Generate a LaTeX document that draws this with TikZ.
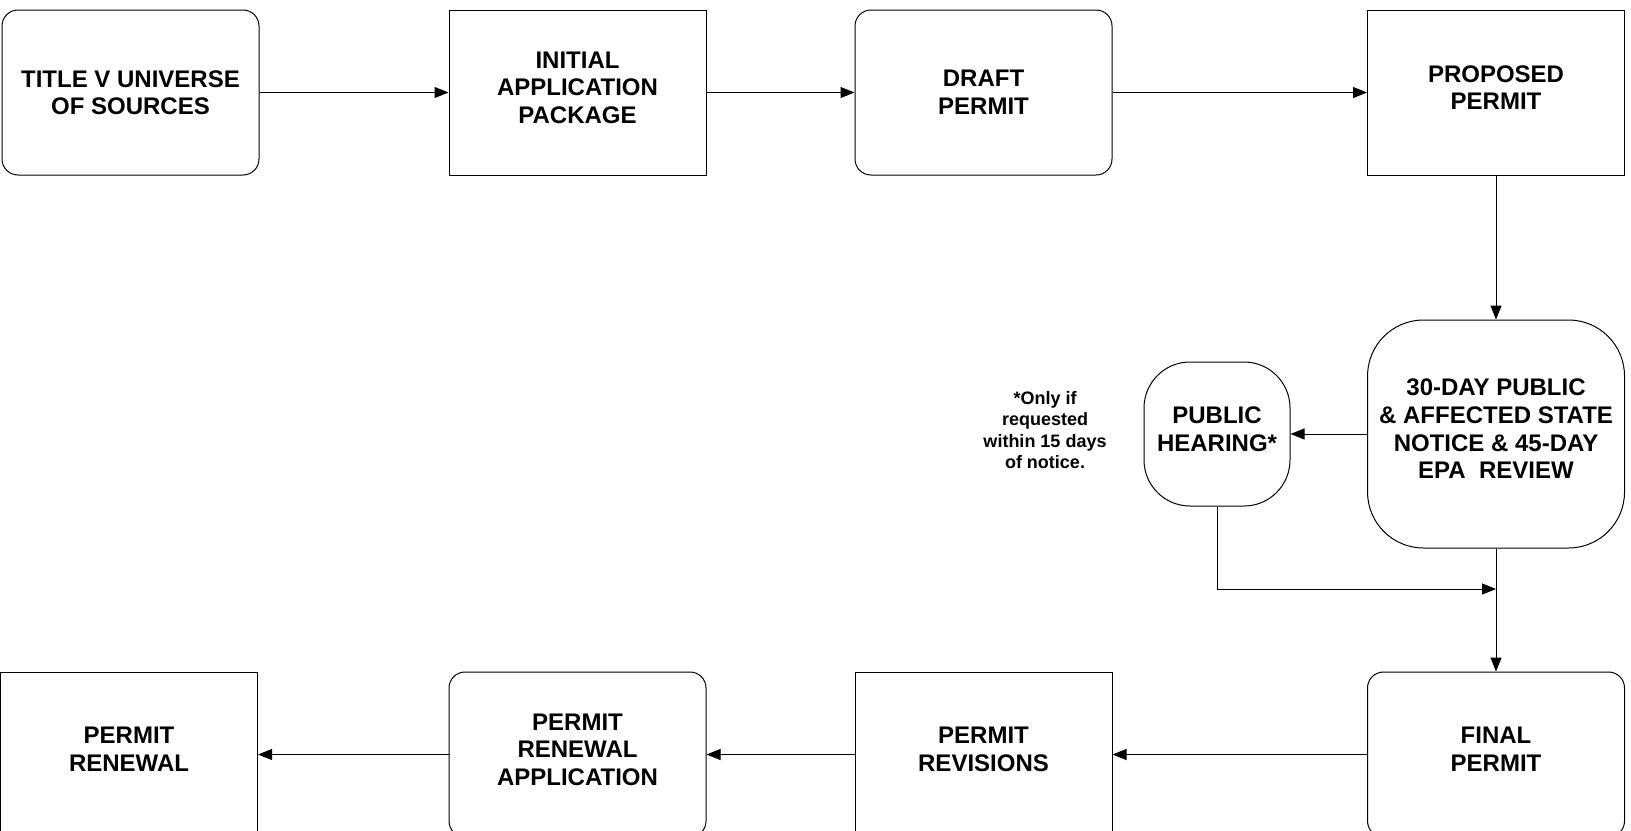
\documentclass[tikz,border=0pt]{standalone}
\usepackage{fontspec}
\setmainfont{Liberation Sans}
\usetikzlibrary{arrows.meta}
\begin{document}
\begin{tikzpicture}[x=0.5pt, y=-0.5pt,
    stage/.style ={rectangle, draw, line width=0.5pt, minimum width=128.5pt, minimum height=82.5pt,
      inner sep=0pt, text depth=5pt, align=center, font=\fontsize{12}{13.8}\selectfont\bfseries},
    roundstage/.style ={stage, rounded corners=8pt},
    link/.style ={line width=0.5pt, -{Triangle[length=7pt, width=5.5pt]}}]
   \useasboundingbox (0,0) rectangle (1631,830);

   \node[roundstage, text depth=0pt] (Title) at (130.5,92.5) {TITLE V UNIVERSE\\OF SOURCES};
   \node[stage]      (Initial)  at (577.5,92.5) {INITIAL\\APPLICATION\\PACKAGE};
   \node[roundstage, text depth=0pt] (Draft) at (983.5,92.5) {DRAFT\\PERMIT};
   \node[stage]      (Proposed) at (1496,92.5)  {PROPOSED\\PERMIT};
   \node[roundstage, minimum height=114pt, rounded corners=28pt] (Notice) at (1496,434)
     {30-DAY PUBLIC\\\& AFFECTED STATE\\NOTICE \& 45-DAY\\EPA\ \ REVIEW};
   \node[roundstage, minimum width=73pt, minimum height=72pt, rounded corners=23pt] (Hearing) at (1217,434)
     {PUBLIC\\HEARING*};
   \node[align=center, font=\fontsize{9}{10.8}\selectfont\bfseries] (Note) at (1045,430)
     {*Only if\\requested\\within 15 days\\of notice.};
   \node[roundstage] (Final)     at (1496,754.5) {FINAL\\PERMIT};
   \node[stage]      (Revisions) at (983.5,754.5) {PERMIT\\REVISIONS};
   \node[roundstage] (RenewApp)  at (577.5,754.5) {PERMIT\\RENEWAL\\APPLICATION};
   \node[stage]      (Renewal)   at (129,754.5)   {PERMIT\\RENEWAL};
   \coordinate (Merge) at (1496,589);

   \draw[link] (Title) to (Initial);
   \draw[link] (Initial) to (Draft);
   \draw[link] (Draft) to (Proposed);
   \draw[link] (Proposed) to (Notice);
   \draw[link] (Notice) to (Hearing);
   \draw[link] (Hearing.south) |- (Merge);
   \draw[link] (Notice) to (Final);
   \draw[link] (Final) to (Revisions);
   \draw[link] (Revisions) to (RenewApp);
   \draw[link] (RenewApp) to (Renewal);

 \end{tikzpicture}
\end{document}
